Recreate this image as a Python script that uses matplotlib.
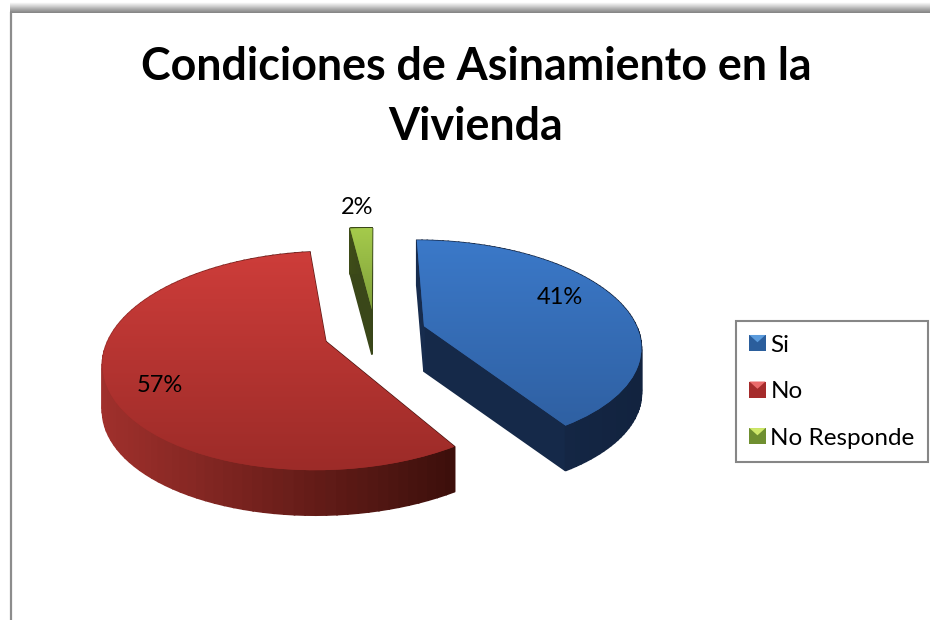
"""Condiciones de Asinamiento en la Vivienda: exploded pseudo-3D pie."""
import matplotlib
matplotlib.use('Agg')
import matplotlib.pyplot as plt
import numpy as np
from matplotlib.colors import LinearSegmentedColormap
from matplotlib.legend_handler import HandlerBase
from matplotlib.patches import Polygon, Rectangle
from matplotlib.transforms import Transform

categories = ['Si', 'No', 'No Responde']
shares = [41, 57, 2]
explode = [0.24, 0.24, 0.24]
top_colors = [('#3b79c9', '#2f60a2'), ('#ce3d3a', '#9c2b28'), ('#a6cc4c', '#7f9f3a')]
wall_colors = [('#172c4e', '#12233f'), ('#a0302c', '#3c0f0b'), ('#3e4c18', '#36421a')]
swatch_colors = [('#2b5e9c', '#5b9bdc'), ('#a52b2b', '#ea6a6a'), ('#6f8f30', '#cfe86a')]
label_pos = [(560, 297), (160, 385), (357, 207)]

plt.rcParams['font.family'] = ['Lato', 'DejaVu Sans']

CX, CY, A, B, K, DEPTH = 375, 333, 215, 103, 0.174, 45


class Tilt(Transform):
    """Unit pie coordinates to pixel-like data coordinates, with perspective."""
    input_dims = 2
    output_dims = 2

    def transform_non_affine(self, values):
        values = np.asarray(values)
        d = 1 + K * values[:, 1]
        return np.column_stack([CX + A * values[:, 0] / d, CY - B * values[:, 1] / d])


class HandlerBevel(HandlerBase):
    def create_artists(self, legend, orig, xd, yd, w, h, fontsize, trans):
        dark, light = orig.bevel
        s = h * 0.95
        y0 = -yd + (h - s) / 2
        box = Rectangle((-xd, y0), s, s, fc=dark, ec='none', transform=trans)
        tri = Polygon([(-xd, y0 + s), (-xd + s, y0 + s), (-xd + s / 2, y0 + s * 0.55)],
                      fc=light, ec='none', transform=trans)
        return [box, tri]


fig = plt.figure(figsize=(9.3, 6.2), dpi=100, facecolor='white')
ax = fig.add_axes([0, 0, 1, 1])
wedges = ax.pie(shares, explode=explode, startangle=90, counterclock=False,
                colors=[c[1] for c in top_colors], radius=1)[0]
tilt = Tilt()
to_data = tilt + ax.transData

for w, top, wall in zip(wedges, top_colors, wall_colors):
    # side wall: the two cut faces first, then the arc over them
    th = np.radians(np.linspace(w.theta1, w.theta2, 90))
    arc = np.column_stack([w.center[0] + w.r * np.cos(th), w.center[1] + w.r * np.sin(th)])
    rim = tilt.transform_non_affine(np.vstack([w.center, arc, w.center]))
    cmap = LinearSegmentedColormap.from_list('wall', wall)
    x0, x1 = rim[:, 0].min(), rim[:, 0].max()
    segs = list(zip(rim[:-1], rim[1:]))
    for p, q in [segs[0], segs[-1]] + segs[1:-1]:
        c = cmap((0.5 * (p[0] + q[0]) - x0) / (x1 - x0))
        ax.add_patch(Polygon([p, q, q + [0, DEPTH], p + [0, DEPTH]], fc=c, ec=c, lw=1.2, zorder=2))
    # top face with vertical gradient, clipped to the wedge
    w.set_transform(to_data)
    w.set_zorder(3)
    w.set_edgecolor('none')
    grad = LinearSegmentedColormap.from_list('top', top)
    im = ax.imshow(np.linspace(0, 1, 200)[:, None], cmap=grad, aspect='auto', zorder=4,
                   extent=(x0 - 2, x1 + 2, rim[:, 1].max() + 2, rim[:, 1].min() - 2))
    im.set_clip_path(w.get_path(), to_data)

for pos, v in zip(label_pos, shares):
    ax.text(pos[0], pos[1], f'{v}%', fontsize=17, ha='center', va='center', color='black', zorder=6)

# chart area frame: blurred top band and left rule
band = LinearSegmentedColormap.from_list('band', ['#ffffff', '#d6d6d6', '#a8a8a8', '#858585'])
ax.imshow(np.linspace(0, 1, 20)[:, None], cmap=band, aspect='auto', extent=(10, 930, 13, 2), zorder=1)
ax.plot([11, 11], [13, 620], color='#8c8c8c', lw=1.6, zorder=1)

ax.text(476, 67, 'Condiciones de Asinamiento en la', fontsize=32.2, fontweight='bold', ha='center', va='center')
ax.text(476, 127, 'Vivienda', fontsize=32.2, fontweight='bold', ha='center', va='center')

for w, sw in zip(wedges, swatch_colors):
    w.bevel = sw
leg = ax.legend(wedges, categories, loc='lower left', bbox_to_anchor=(736 / 930, 1 - 462 / 620),
                bbox_transform=ax.transAxes, fontsize=17.5, frameon=True, fancybox=False,
                framealpha=1, edgecolor='#868686', borderaxespad=0, borderpad=0.55,
                labelspacing=1.05, handlelength=0.66, handletextpad=0.2,
                handler_map={type(wedges[0]): HandlerBevel()})
leg.get_frame().set_linewidth(1.5)
leg.set_zorder(7)

ax.set_aspect('auto')
ax.set_xlim(0, 930)
ax.set_ylim(620, 0)
ax.axis('off')
fig.savefig('out.png', dpi=100, facecolor='white')
